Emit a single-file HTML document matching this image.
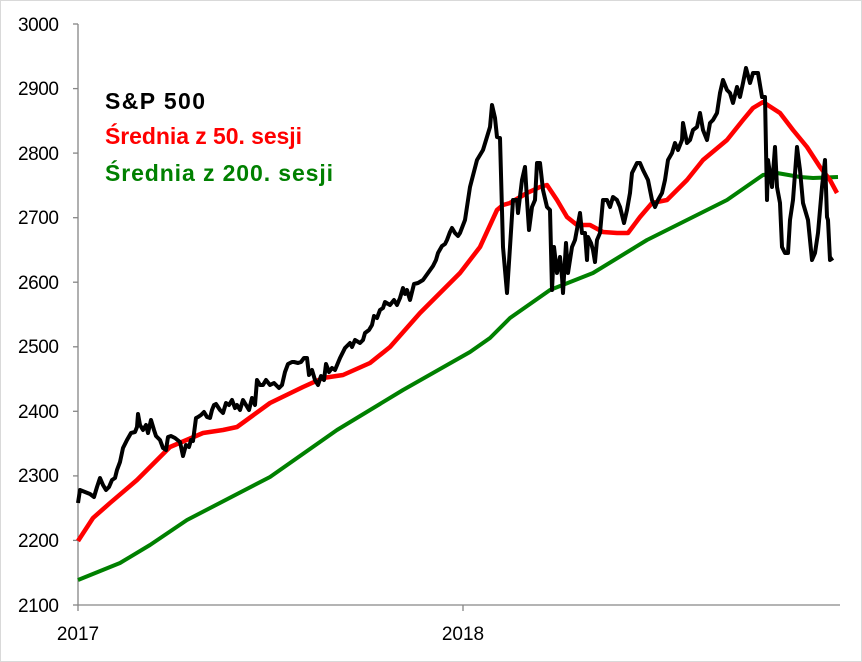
<!DOCTYPE html>
<html><head><meta charset="utf-8"><style>
body{margin:0;background:#fff}
svg{display:block;font-family:"Liberation Sans",sans-serif}
</style></head><body>
<svg width="862" height="662" viewBox="0 0 862 662">
<rect x="0.5" y="0.5" width="861" height="661" fill="#fff" stroke="#d9d9d9"/>
<g stroke="#868686" stroke-width="1.3">
<line x1="78" y1="24" x2="78" y2="605"/>
<line x1="78" y1="605" x2="840" y2="605"/>
<line x1="73" y1="24" x2="78" y2="24"/><line x1="73" y1="88.6" x2="78" y2="88.6"/>
<line x1="73" y1="153.1" x2="78" y2="153.1"/><line x1="73" y1="217.7" x2="78" y2="217.7"/>
<line x1="73" y1="282.2" x2="78" y2="282.2"/><line x1="73" y1="346.8" x2="78" y2="346.8"/>
<line x1="73" y1="411.3" x2="78" y2="411.3"/><line x1="73" y1="475.9" x2="78" y2="475.9"/>
<line x1="73" y1="540.4" x2="78" y2="540.4"/><line x1="73" y1="605" x2="78" y2="605"/>
<line x1="78" y1="605" x2="78" y2="611"/><line x1="463" y1="605" x2="463" y2="611"/>
</g>
<g font-size="19" text-anchor="end" fill="#000">
<text x="59" y="31" textLength="41">3000</text><text x="59" y="95" textLength="41">2900</text><text x="59" y="160" textLength="41">2800</text>
<text x="59" y="224" textLength="41">2700</text><text x="59" y="289" textLength="41">2600</text><text x="59" y="353" textLength="41">2500</text>
<text x="59" y="418" textLength="41">2400</text><text x="59" y="482" textLength="41">2300</text><text x="59" y="547" textLength="41">2200</text>
<text x="59" y="612" textLength="41">2100</text>
</g>
<g font-size="19" text-anchor="middle"><text x="78" y="640">2017</text><text x="463" y="640">2018</text></g>
<polyline fill="none" stroke="#008000" stroke-width="4" stroke-linejoin="round" points="78,580 120,563 150,545 187,520 270,477 337,430 403,390 470,352 490,338 510,318 550,290 593,273 647,240 693,217 727,200 763,175 777,173 800,177 813,178 838,177"/>
<polyline fill="none" stroke="#ff0000" stroke-width="4.5" stroke-linejoin="round" points="78,541 93,518 110,503 137,480 170,447 203,433 223,430 237,427 270,403 303,387 323,378 343,375 370,363 390,347 420,313 453,280 460,273 480,247 497,210 503,205 510,203 527,193 540,187 547,185 557,200 567,217 577,225 590,225 603,232 617,233 628,233 640,217 652,203 667,200 687,180 703,160 727,140 743,120 753,108 763,102 780,113 793,130 807,147 820,167 830,180 837,193"/>
<polyline fill="none" stroke="#000" stroke-width="4" stroke-linejoin="round" points="78,503 80,490 85,492 90,494 94,497 97,487 100,478 103,485 106,490 109,487 112,480 115,478 117,470 120,462 123,448 127,440 131,433 135,432 137,427 138,414 140,425 143,430 146,425 148,433 151,420 154,430 156,436 160,440 163,448 166,450 168,437 171,436 175,438 180,442 183,456 186,445 189,447 191,440 193,441 196,418 198,417 201,415 204,412 207,417 210,418 212,410 214,405 216,404 220,410 223,413 226,403 229,405 232,400 235,408 237,405 240,410 243,400 246,405 249,410 252,398 255,405 257,380 260,385 263,385 266,380 270,385 274,383 279,388 282,385 285,372 288,364 292,362 294,362 298,363 301,362 304,358 307,358 309,375 312,370 315,380 318,385 321,376 324,380 326,364 329,372 332,368 335,370 340,358 345,348 350,343 352,347 355,340 360,343 363,340 365,333 369,330 372,325 374,316 377,318 380,310 383,308 385,302 390,305 394,300 397,305 400,298 403,288 405,294 407,290 410,300 412,292 414,284 418,283 423,280 428,273 433,266 436,260 438,253 442,246 445,244 447,240 450,232 452,228 455,233 458,236 460,233 465,220 470,187 477,160 483,150 490,127 492,105 495,118 497,137 500,138 503,247 507,293 510,247 513,200 517,200 518,213 522,180 525,167 527,200 529,230 532,207 535,200 537,163 540,163 543,190 547,207 550,210 552,290 554,247 557,273 560,257 562,277 563,293 566,243 568,273 572,247 575,240 580,213 582,233 585,233 587,260 588,237 591,243 593,250 595,262 597,240 600,233 603,200 607,200 610,207 613,197 617,200 620,207 624,223 627,210 630,193 632,173 637,163 640,163 643,170 648,180 652,200 655,207 658,200 662,193 665,180 668,160 672,153 675,143 678,150 682,140 683,123 687,143 690,140 693,130 697,127 700,113 703,130 707,140 710,123 713,120 717,113 720,93 723,80 727,90 730,93 733,103 737,87 740,97 743,83 746,68 750,83 753,73 758,73 762,97 765,97 767,200 768,160 772,187 775,147 777,187 780,203 782,247 785,253 788,253 790,220 793,200 797,147 800,170 803,203 808,220 812,260 815,253 818,233 822,187 825,160 827,217 828,220 830,260 833,258"/>
<g font-size="23" font-weight="bold">
<text x="105" y="109" fill="#000" textLength="100">S&amp;P 500</text>
<text x="105" y="144" fill="#ff0000" textLength="197">Średnia z 50. sesji</text>
<text x="105" y="181" fill="#008000" textLength="228">Średnia z 200. sesji</text>
</g>
</svg>
</body></html>
